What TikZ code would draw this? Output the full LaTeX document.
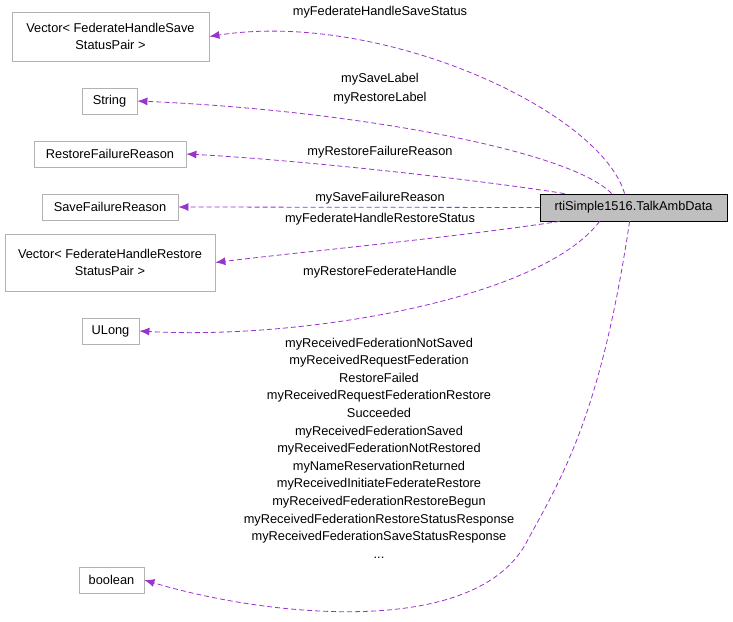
\documentclass[tikz,border=0pt]{standalone}
\usepackage{fontspec}
\setmainfont{Liberation Sans}
\usetikzlibrary{arrows.meta}
\begin{document}
\begin{tikzpicture}[x=1pt,y=-1pt,
  box/.style={draw=black!30,fill=white,align=center,inner sep=0pt,line width=0.8pt,font=\fontsize{12.8}{17}\selectfont},
  lbl/.style={align=center,font=\fontsize{12.8}{19}\selectfont},
  edge/.style={draw={rgb,255:red,154;green,50;blue,205},line width=0.8pt,dash pattern=on 5pt off 3pt,-{Latex[length=10pt,width=8pt]}}]
\path[use as bounding box] (0,0) rectangle (733,621);
\node[box,minimum width=197,minimum height=49] (v1) at (110.5,36.5) {Vector< FederateHandleSave\\StatusPair >};
\node[box,minimum width=55,minimum height=26] (s) at (109.5,101) {String};
\node[box,minimum width=152,minimum height=26] (rf) at (110,154) {RestoreFailureReason};
\node[box,minimum width=136,minimum height=26] (sf) at (110,207) {SaveFailureReason};
\node[box,minimum width=210,minimum height=57] (v2) at (110,262.5) {Vector< FederateHandleRestore\\StatusPair >};
\node[box,minimum width=57,minimum height=26] (u) at (110.5,331) {ULong};
\node[box,minimum width=65,minimum height=26] (b) at (111.5,580) {boolean};
\node[box,draw=black,fill=black!25,minimum width=187,minimum height=27] (m) at (633.5,207.5) {rtiSimple1516.TalkAmbData};
\draw[edge] ([xshift=85pt]m.north west) .. controls (600,110) and (380,10) .. (v1.east);
\draw[edge] ([xshift=72pt]m.north west) .. controls (570,150) and (350,110) .. (s.east);
\draw[edge] ([xshift=25pt]m.north west) .. controls (480,180) and (300,160) .. (rf.east);
\draw[edge] (m.west) -- (sf.east);
\draw[edge] ([xshift=20pt]m.south west) .. controls (450,238) and (300,252) .. (v2.east);
\draw[edge] ([xshift=60pt]m.south west) .. controls (540,300) and (300,340) .. (u.east);
\draw[edge] ([xshift=90pt]m.south west) .. controls (600,420) and (560,480) .. (525,545) .. controls (470,640) and (260,615) .. (b.east);
\node[lbl] at (380,12) {myFederateHandleSaveStatus};
\node[lbl] at (380,89) {mySaveLabel\\myRestoreLabel};
\node[lbl] at (380,152) {myRestoreFailureReason};
\node[lbl] at (380,198) {mySaveFailureReason};
\node[lbl] at (380,219) {myFederateHandleRestoreStatus};
\node[lbl] at (380,272) {myRestoreFederateHandle};
\node[lbl,font=\fontsize{12.8}{17.6}\selectfont] at (379,448) {myReceivedFederationNotSaved\\myReceivedRequestFederation\\RestoreFailed\\myReceivedRequestFederationRestore\\Succeeded\\myReceivedFederationSaved\\myReceivedFederationNotRestored\\myNameReservationReturned\\myReceivedInitiateFederateRestore\\myReceivedFederationRestoreBegun\\myReceivedFederationRestoreStatusResponse\\myReceivedFederationSaveStatusResponse\\...};
\end{tikzpicture}
\end{document}
